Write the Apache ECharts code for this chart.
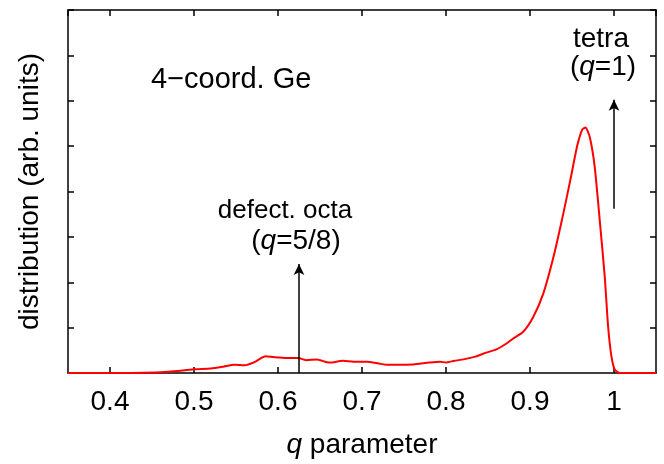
<!DOCTYPE html>
<html>
<head>
<meta charset="utf-8">
<script src="https://cdn.jsdelivr.net/npm/echarts@6/dist/echarts.min.js"></script>
<style>
  html, body { margin: 0; padding: 0; background: #fff; }
  #chart { width: 664px; height: 464px; }
</style>
</head>
<body>
<div id="chart"></div>
<script>
// q-parameter distribution, 4-coordinated Ge
const qValues = [
  0.35, 0.40, 0.44, 0.47, 0.50, 0.52, 0.535, 0.548, 0.560, 0.572,
  0.580, 0.585, 0.595, 0.610, 0.624, 0.634, 0.646, 0.656, 0.662, 0.677,
  0.690, 0.706, 0.720, 0.730, 0.745, 0.761, 0.780, 0.793, 0.800, 0.810,
  0.821, 0.835, 0.845, 0.860, 0.872, 0.880, 0.892, 0.904, 0.916, 0.928,
  0.938, 0.948, 0.956, 0.962, 0.966, 0.971, 0.977, 0.983, 0.989, 0.993,
  0.997, 1.001, 1.007, 1.05
];
const distValues = [
  0, 0, 0.005, 0.03, 0.08, 0.10, 0.14, 0.18, 0.17, 0.24,
  0.33, 0.37, 0.35, 0.33, 0.33, 0.28, 0.30, 0.25, 0.23, 0.27,
  0.25, 0.25, 0.21, 0.18, 0.18, 0.19, 0.23, 0.25, 0.23, 0.27,
  0.30, 0.36, 0.43, 0.52, 0.65, 0.76, 0.91, 1.24, 1.76, 2.56,
  3.37, 4.25, 4.99, 5.36, 5.41, 5.21, 4.55, 3.37, 2.12, 1.02,
  0.36, 0.07, 0, 0
];
// arrows: [q, from, to]
const arrows = [
  [0.625, 0, 2.40],
  [1.0, 3.62, 6.02]
];

const FONT = "'Liberation Sans', Arial, sans-serif";
const FS = 28;

const chart = echarts.init(document.getElementById('chart'), null, { renderer: 'canvas' });

const tickStyle = { show: true, inside: true, length: 6, lineStyle: { color: '#000', width: 1.5 } };
const lineStyle = { show: true, onZero: false, lineStyle: { color: '#000', width: 1.5 } };
const italic = { i: { fontStyle: 'italic', fontSize: FS, fontFamily: FONT, color: '#000' } };

chart.setOption({
  animation: false,
  grid: { left: 68, right: 8, top: 10, bottom: 91 },
  xAxis: [{
    type: 'value', min: 0.35, max: 1.05, splitNumber: 7,
    axisLine: lineStyle, axisTick: tickStyle, splitLine: { show: false },
    axisLabel: { color: '#000', fontSize: FS, fontFamily: FONT, margin: 15,
      showMinLabel: false, showMaxLabel: false },
    name: '{i|q} parameter', nameLocation: 'middle', nameGap: 58,
    nameTextStyle: { color: '#000', fontSize: FS, fontFamily: FONT, rich: italic }
  }, {
    type: 'value', position: 'top', min: 0.35, max: 1.05, splitNumber: 7,
    axisLine: lineStyle, axisTick: tickStyle, splitLine: { show: false },
    axisLabel: { show: false }
  }],
  yAxis: [{
    type: 'value', min: 0, max: 8, interval: 1,
    axisLine: lineStyle, axisTick: tickStyle, splitLine: { show: false },
    axisLabel: { show: false },
    name: 'distribution (arb. units)', nameLocation: 'middle', nameGap: 24,
    nameTextStyle: { color: '#000', fontSize: FS, fontFamily: FONT }
  }, {
    type: 'value', position: 'right', min: 0, max: 8, interval: 1,
    axisLine: lineStyle, axisTick: tickStyle, splitLine: { show: false },
    axisLabel: { show: false }
  }],
  series: [{
    type: 'line', smooth: 0.2, showSymbol: false, silent: true,
    data: qValues.map((q, i) => [q, distValues[i]]),
    lineStyle: { color: '#ff0000', width: 2 },
    markLine: {
      silent: true, symbol: ['none', 'arrow'], symbolSize: [8, 11],
      label: { show: false },
      lineStyle: { color: '#000', width: 1.5, type: 'solid' },
      data: arrows.map(([q, a, b]) => [{ coord: [q, a] }, { coord: [q, b] }])
    }
  }],
  graphic: [
    { type: 'text', x: 151, y: 80, style: { text: '4\u2212coord. Ge', fill: '#000',
      font: `29px ${FONT}`, textAlign: 'left', textVerticalAlign: 'middle' } },
    { type: 'text', x: 285, y: 211, style: { text: 'defect. octa', fill: '#000',
      font: `26px ${FONT}`, textAlign: 'center', textVerticalAlign: 'middle' } },
    { type: 'text', x: 296, y: 241, style: { text: '({i|q}=5/8)', fill: '#000',
      font: `${FS}px ${FONT}`, textAlign: 'center', textVerticalAlign: 'middle', rich: italic } },
    { type: 'text', x: 601, y: 39, style: { text: 'tetra', fill: '#000',
      font: `${FS}px ${FONT}`, textAlign: 'center', textVerticalAlign: 'middle' } },
    { type: 'text', x: 603, y: 67, style: { text: '({i|q}=1)', fill: '#000',
      font: `${FS}px ${FONT}`, textAlign: 'center', textVerticalAlign: 'middle', rich: italic } }
  ]
});
</script>
</body>
</html>
